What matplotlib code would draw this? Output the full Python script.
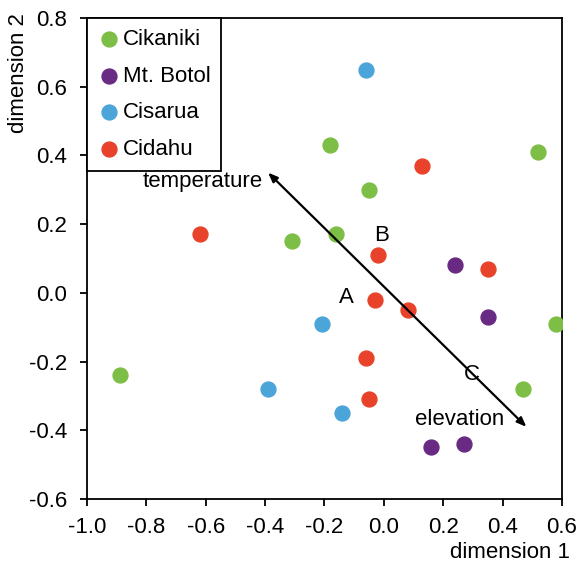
import matplotlib
matplotlib.use("Agg")
import matplotlib.pyplot as plt

plt.rcParams['font.family'] = ['Liberation Sans', 'DejaVu Sans']

# site scores
cikaniki_x = [-0.18, -0.05, -0.31, -0.16, 0.52, 0.58, 0.47, -0.89]
cikaniki_y = [0.43, 0.30, 0.15, 0.17, 0.41, -0.09, -0.28, -0.24]

botol_x = [0.24, 0.35, 0.16, 0.27]
botol_y = [0.08, -0.07, -0.45, -0.44]

cisarua_x = [-0.06, -0.21, -0.39, -0.14]
cisarua_y = [0.65, -0.09, -0.28, -0.35]

cidahu_x = [-0.62, 0.13, -0.02, 0.35, -0.03, 0.08, -0.06, -0.05]
cidahu_y = [0.17, 0.37, 0.11, 0.07, -0.02, -0.05, -0.19, -0.31]

# environmental vector (temperature <-> elevation)
arrow_start = (-0.39, 0.35)
arrow_end = (0.48, -0.39)

fs = 16

fig = plt.figure(figsize=(5.78, 5.63), dpi=100)
ax = fig.add_axes([0.1505, 0.1137, 0.8218, 0.8543])

ms = 115
ax.scatter(cikaniki_x, cikaniki_y, s=ms, color='#7dbe46', label='Cikaniki', zorder=3)
ax.scatter(botol_x, botol_y, s=ms, color='#682a82', label='Mt. Botol', zorder=3)
ax.scatter(cisarua_x, cisarua_y, s=ms, color='#4ba5d8', label='Cisarua', zorder=3)
ax.scatter(cidahu_x, cidahu_y, s=ms, color='#e8432a', label='Cidahu', zorder=3)

ax.annotate('', xy=arrow_end, xytext=arrow_start,
            arrowprops=dict(arrowstyle='<|-|>,head_length=0.55,head_width=0.22',
                            color='black', lw=1.6, shrinkA=0, shrinkB=0), zorder=4)

ax.text(-0.61, 0.325, 'temperature', fontsize=fs, ha='center', va='center')
ax.text(0.255, -0.37, 'elevation', fontsize=fs, ha='center', va='center')
ax.text(-0.126, -0.013, 'A', fontsize=fs, ha='center', va='center')
ax.text(-0.008, 0.166, 'B', fontsize=fs, ha='center', va='center')
ax.text(0.297, -0.239, 'C', fontsize=fs, ha='center', va='center')

ax.set_xlim(-1.0, 0.6)
ax.set_ylim(-0.6, 0.8)
ax.set_xticks([-1.0, -0.8, -0.6, -0.4, -0.2, 0.0, 0.2, 0.4, 0.6])
ax.set_yticks([-0.6, -0.4, -0.2, 0.0, 0.2, 0.4, 0.6, 0.8])
ax.xaxis.set_major_formatter(matplotlib.ticker.FormatStrFormatter('%.1f'))
ax.yaxis.set_major_formatter(matplotlib.ticker.FormatStrFormatter('%.1f'))
ax.tick_params(direction='out', length=4.8, width=1.3, labelsize=fs, colors='black')
ax.tick_params(axis='x', pad=8)
ax.tick_params(axis='y', pad=9.5)
for sp in ax.spines.values():
    sp.set_linewidth(1.3)

# axis titles sit at the corners, outside the usual label spots
fig.text(570 / 578, 5 / 563, 'dimension 1', fontsize=fs, ha='right', va='baseline')
fig.text(19 / 578, 1 - 13 / 563, 'dimension 2', fontsize=fs, ha='center', va='top',
         rotation=90)

leg = ax.legend(loc='upper left', fontsize=fs, frameon=True, fancybox=False,
                edgecolor='black', borderaxespad=0, handletextpad=0.1,
                labelspacing=0.7, borderpad=0.5, handlelength=1.0,
                markerscale=1.0, framealpha=1)
leg.get_frame().set_linewidth(1.3)

fig.savefig('out.png', dpi=100)
